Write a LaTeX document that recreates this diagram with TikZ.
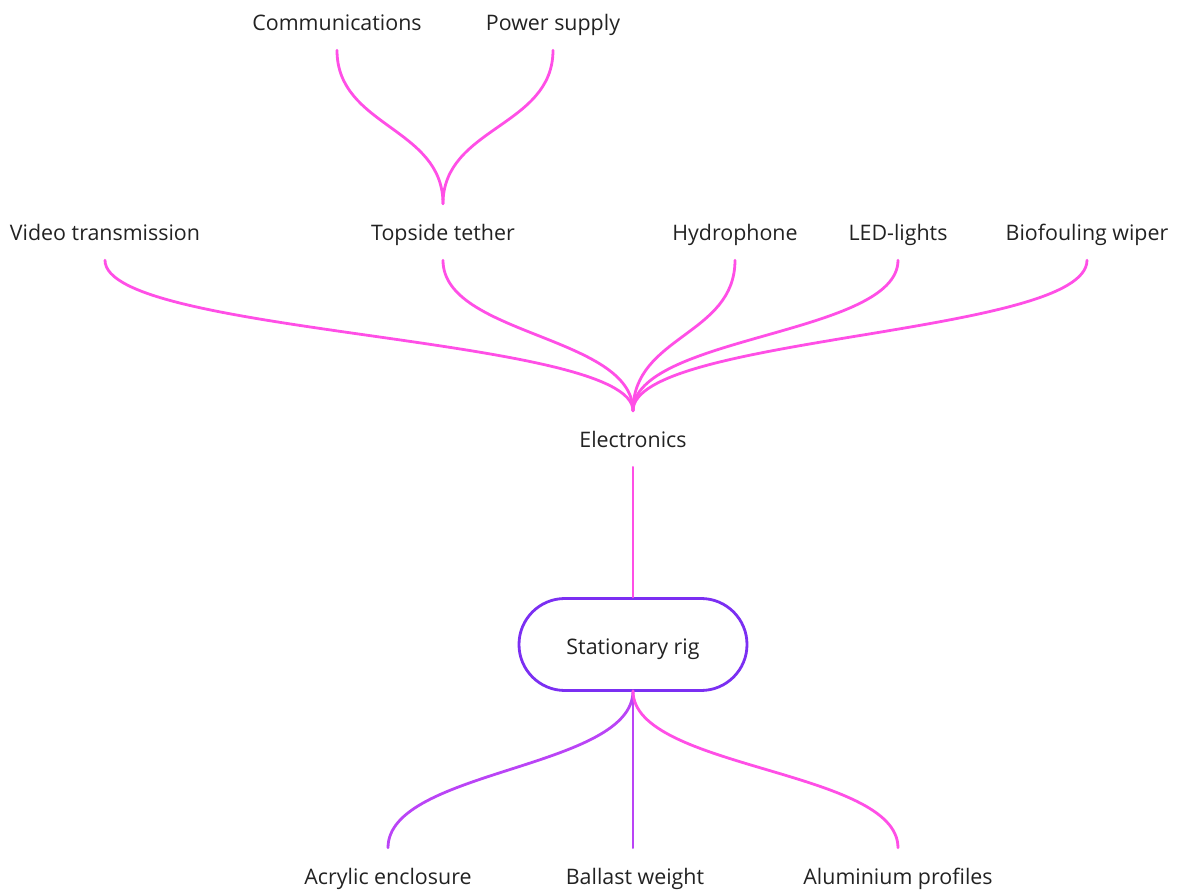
\documentclass[tikz,border=0pt]{standalone}
\usepackage{fontspec}
\setmainfont{Open Sans}
\usetikzlibrary{calc}

\definecolor{wirepink}{HTML}{FF4FE6}
\definecolor{wireviolet}{HTML}{BA44F6}
\definecolor{rigedge}{HTML}{7B2FF2}
\definecolor{ink}{HTML}{222222}

\begin{document}
\begin{tikzpicture}[x=1pt,y=-1pt,
    lbl/.style={inner sep=0pt,minimum height=56pt,text height=17pt,text depth=0pt,
                font=\fontsize{21.4}{26}\selectfont,text=ink},
    rigbox/.style={draw=rigedge,line width=2.8pt,fill=white,rounded corners=45.9pt,
                minimum width=228pt,minimum height=92pt,inner sep=0pt,
                text height=19pt,text depth=0pt,
                font=\fontsize{21.4}{26}\selectfont,text=ink},
    wire/.style={draw=wirepink,line width=2.8pt,line cap=round},
    scurve/.style={to path={.. controls ($(\tikztostart)!.5!(\tikztostart|-\tikztotarget)$)
                and ($(\tikztotarget)!.5!(\tikztotarget|-\tikztostart)$) .. (\tikztotarget)}}]

  \useasboundingbox (0,0) rectangle (1179,893);

  % top row
  \node[lbl] (comm)  at (337,22) {Communications};
  \node[lbl] (power) at (553,22) {Power supply};

  % electronics row
  \foreach \name/\x/\txt in {video/105/Video transmission, tether/443/Topside tether,
      hydro/735/Hydrophone, led/898/LED-lights, wiper/1087/Biofouling wiper} {
    \node[lbl] (\name) at (\x,232) {\txt};
  }

  \node[lbl] (elec) at (633,439) {Electronics};
  \node[rigbox] (rig) at (633,644.5) {Stationary rig};

  % bottom row
  \node[lbl] (acryl)   at (388,876) {Acrylic enclosure};
  \node[lbl] (ballast) at (635,876) {Ballast weight};
  \node[lbl] (alu)     at (898,876) {Aluminium profiles};

  % connectors
  \foreach \a in {comm,power}
    \draw[wire] (\a.south) to[scurve] (tether.north);

  \foreach \a in {video,tether,hydro,led,wiper}
    \draw[wire] (\a.south) to[scurve] (elec.north);

  \draw[wire] (elec.south) -- (rig.north);

  \draw[wire,draw=wireviolet] ([yshift=1pt]rig.south) to[scurve] (acryl.north);
  \draw[wire,draw=wireviolet] ([yshift=1pt]rig.south) to[scurve] (ballast.north-|rig.south);
  \draw[wire] ([yshift=1pt]rig.south) to[scurve] (alu.north);

\end{tikzpicture}
\end{document}
